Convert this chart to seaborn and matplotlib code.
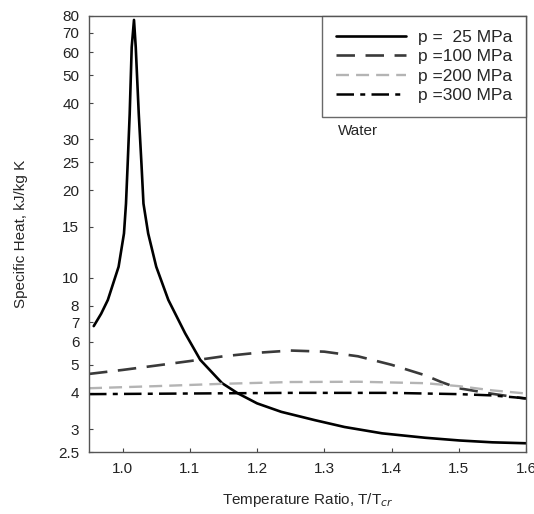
import matplotlib
matplotlib.use("Agg")
import matplotlib.pyplot as plt
from matplotlib.ticker import FixedLocator, NullLocator
import seaborn as sns
import pandas as pd

# Values (specific heat of water, kJ/kg K)
x_25 = [0.957, 0.968, 0.978, 0.994, 1.002, 1.005, 1.0075, 1.0105, 1.0135, 1.0169,
        1.0195, 1.024, 1.028, 1.031, 1.038, 1.050, 1.068, 1.093, 1.1155, 1.148,
        1.171, 1.2, 1.236, 1.286, 1.33, 1.386, 1.45, 1.501, 1.55, 1.600]
cp_25 = [6.8, 7.5, 8.37, 10.9, 14.2, 18.0, 24.7, 36.7, 62.4, 77.5,
         62.4, 36.7, 24.7, 18.0, 14.2, 10.9, 8.37, 6.42, 5.2, 4.32,
         3.99, 3.68, 3.44, 3.22, 3.05, 2.90, 2.80, 2.74, 2.70, 2.68]

x_100 = [0.95, 1.0, 1.05, 1.1, 1.15, 1.2, 1.25, 1.3, 1.35, 1.4, 1.45, 1.475, 1.5, 1.55, 1.6]
cp_100 = [4.65, 4.8, 4.97, 5.15, 5.35, 5.5, 5.6, 5.55, 5.35, 5.0, 4.6, 4.35, 4.15, 3.97, 3.82]

x_200 = [0.95, 1.05, 1.15, 1.25, 1.35, 1.45, 1.5, 1.55, 1.6]
cp_200 = [4.15, 4.22, 4.3, 4.36, 4.37, 4.32, 4.22, 4.08, 3.98]

x_300 = [0.95, 1.1, 1.25, 1.4, 1.5, 1.55, 1.6]
cp_300 = [3.96, 3.98, 4.0, 4.0, 3.96, 3.92, 3.83]

labels = ["p =  25 MPa", "p =100 MPa", "p =200 MPa", "p =300 MPa"]
y_ticks = [2.5, 3, 4, 5, 6, 7, 8, 10, 15, 20, 25, 30, 40, 50, 60, 70, 80]
x_ticks = [1.0, 1.1, 1.2, 1.3, 1.4, 1.5, 1.6]

sns.set_style("ticks")
plt.rcParams['font.family'] = ['Liberation Sans', 'DejaVu Sans']

fig = plt.figure(figsize=(5.34, 5.14), dpi=100)
ax = fig.add_axes([0.1667, 0.1206, 0.8183, 0.8484])

series = [
    (x_25, cp_25, "black", "-", 1.9),
    (x_100, cp_100, "#3a3a3a", (0, (7, 4)), 1.9),
    (x_200, cp_200, "#b4b4b4", (0, (5.5, 3)), 1.7),
    (x_300, cp_300, "black", (0, (7, 2.5, 2, 2.5)), 1.8),
]
for (xs, ys, col, ls, lw), lab in zip(series, labels):
    df = pd.DataFrame({"T": xs, "cp": ys})
    sns.lineplot(data=df, x="T", y="cp", ax=ax, color=col, linestyle=ls,
                 linewidth=lw, label=lab, sort=False)

ax.set_yscale("log")
ax.set_xlim(0.95, 1.6)
ax.set_ylim(2.5, 80)
ax.yaxis.set_major_locator(FixedLocator(y_ticks))
ax.yaxis.set_minor_locator(NullLocator())
ax.set_yticklabels([f"{v:g}" for v in y_ticks])
ax.set_xticks(x_ticks)
ax.set_xticklabels([f"{v:.1f}" for v in x_ticks])
ax.tick_params(direction="in", length=3, labelsize=11, colors="#444444",
               labelcolor="#222222")
ax.tick_params(axis="y", pad=7)
ax.tick_params(axis="x", pad=7)

for sp in ax.spines.values():
    sp.set_visible(True)
    sp.set_color("#555555")
    sp.set_linewidth(1.0)

ax.set_xlabel("Temperature Ratio, T/T$_{cr}$", fontsize=11, labelpad=11)
ax.set_ylabel("Specific Heat, kJ/kg K", fontsize=11, labelpad=22)

ax.text(1.321, 32, "Water", fontsize=11, va="center", ha="left")

leg = ax.legend(loc="upper right", frameon=True, fancybox=False, fontsize=12.5,
                handlelength=4.0, handletextpad=0.7, borderaxespad=0.0,
                labelspacing=0.25, borderpad=0.8, edgecolor="#444444")
leg.get_frame().set_linewidth(1.0)

plt.savefig("out.png", dpi=100)
plt.close()
